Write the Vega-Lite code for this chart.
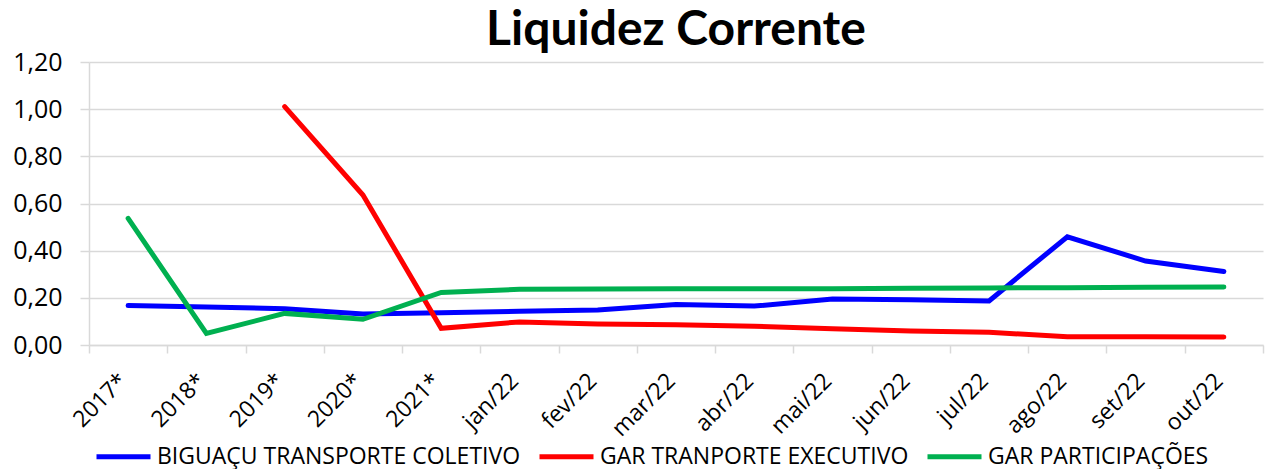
{
  "$schema": "https://vega.github.io/schema/vega-lite/v6.json",
  "autosize": "none",
  "width": 1174,
  "height": 283,
  "padding": {"left": 89, "top": 62, "right": 4, "bottom": 124},
  "background": "white",
  "title": {"text": "Liquidez Corrente", "font": "Lato", "fontSize": 48, "fontWeight": "bold", "color": "black", "anchor": "middle", "offset": -5},
  "config": {"view": {"stroke": null}, "font": "Open Sans"},
  "data": {"values": [
    {"p": "2017*", "s": "BIGUAÇU TRANSPORTE COLETIVO", "v": 0.167},
    {"p": "2018*", "s": "BIGUAÇU TRANSPORTE COLETIVO", "v": 0.161},
    {"p": "2019*", "s": "BIGUAÇU TRANSPORTE COLETIVO", "v": 0.154},
    {"p": "2020*", "s": "BIGUAÇU TRANSPORTE COLETIVO", "v": 0.131},
    {"p": "2021*", "s": "BIGUAÇU TRANSPORTE COLETIVO", "v": 0.137},
    {"p": "jan/22", "s": "BIGUAÇU TRANSPORTE COLETIVO", "v": 0.143},
    {"p": "fev/22", "s": "BIGUAÇU TRANSPORTE COLETIVO", "v": 0.148},
    {"p": "mar/22", "s": "BIGUAÇU TRANSPORTE COLETIVO", "v": 0.172},
    {"p": "abr/22", "s": "BIGUAÇU TRANSPORTE COLETIVO", "v": 0.165},
    {"p": "mai/22", "s": "BIGUAÇU TRANSPORTE COLETIVO", "v": 0.195},
    {"p": "jun/22", "s": "BIGUAÇU TRANSPORTE COLETIVO", "v": 0.192},
    {"p": "jul/22", "s": "BIGUAÇU TRANSPORTE COLETIVO", "v": 0.187},
    {"p": "ago/22", "s": "BIGUAÇU TRANSPORTE COLETIVO", "v": 0.459},
    {"p": "set/22", "s": "BIGUAÇU TRANSPORTE COLETIVO", "v": 0.356},
    {"p": "out/22", "s": "BIGUAÇU TRANSPORTE COLETIVO", "v": 0.312},
    {"p": "2019*", "s": "GAR TRANPORTE EXECUTIVO", "v": 1.011},
    {"p": "2020*", "s": "GAR TRANPORTE EXECUTIVO", "v": 0.636},
    {"p": "2021*", "s": "GAR TRANPORTE EXECUTIVO", "v": 0.071},
    {"p": "jan/22", "s": "GAR TRANPORTE EXECUTIVO", "v": 0.098},
    {"p": "fev/22", "s": "GAR TRANPORTE EXECUTIVO", "v": 0.089},
    {"p": "mar/22", "s": "GAR TRANPORTE EXECUTIVO", "v": 0.086},
    {"p": "abr/22", "s": "GAR TRANPORTE EXECUTIVO", "v": 0.080},
    {"p": "mai/22", "s": "GAR TRANPORTE EXECUTIVO", "v": 0.069},
    {"p": "jun/22", "s": "GAR TRANPORTE EXECUTIVO", "v": 0.059},
    {"p": "jul/22", "s": "GAR TRANPORTE EXECUTIVO", "v": 0.054},
    {"p": "ago/22", "s": "GAR TRANPORTE EXECUTIVO", "v": 0.035},
    {"p": "set/22", "s": "GAR TRANPORTE EXECUTIVO", "v": 0.035},
    {"p": "out/22", "s": "GAR TRANPORTE EXECUTIVO", "v": 0.034},
    {"p": "2017*", "s": "GAR PARTICIPAÇÕES", "v": 0.537},
    {"p": "2018*", "s": "GAR PARTICIPAÇÕES", "v": 0.049},
    {"p": "2019*", "s": "GAR PARTICIPAÇÕES", "v": 0.134},
    {"p": "2020*", "s": "GAR PARTICIPAÇÕES", "v": 0.109},
    {"p": "2021*", "s": "GAR PARTICIPAÇÕES", "v": 0.223},
    {"p": "jan/22", "s": "GAR PARTICIPAÇÕES", "v": 0.236},
    {"p": "fev/22", "s": "GAR PARTICIPAÇÕES", "v": 0.237},
    {"p": "mar/22", "s": "GAR PARTICIPAÇÕES", "v": 0.238},
    {"p": "abr/22", "s": "GAR PARTICIPAÇÕES", "v": 0.238},
    {"p": "mai/22", "s": "GAR PARTICIPAÇÕES", "v": 0.239},
    {"p": "jun/22", "s": "GAR PARTICIPAÇÕES", "v": 0.241},
    {"p": "jul/22", "s": "GAR PARTICIPAÇÕES", "v": 0.242},
    {"p": "ago/22", "s": "GAR PARTICIPAÇÕES", "v": 0.243},
    {"p": "set/22", "s": "GAR PARTICIPAÇÕES", "v": 0.245},
    {"p": "out/22", "s": "GAR PARTICIPAÇÕES", "v": 0.246}
  ]},
  "mark": {"type": "line", "strokeWidth": 5, "strokeCap": "round", "strokeJoin": "miter"},
  "encoding": {
    "x": {
      "field": "p", "type": "ordinal", "bandPosition": 0.5,
      "scale": {"type": "band", "paddingInner": 0, "paddingOuter": 0,
        "domain": ["2017*", "2018*", "2019*", "2020*", "2021*", "jan/22", "fev/22", "mar/22", "abr/22", "mai/22", "jun/22", "jul/22", "ago/22", "set/22", "out/22"]},
      "axis": {"title": null, "tickBand": "extent", "labelAngle": -45, "labelAlign": "right", "labelBaseline": "middle", "labelFontSize": 23, "labelColor": "black",
        "domainColor": "#d9d9d9", "domainWidth": 1.5, "tickColor": "#d9d9d9", "tickWidth": 1.5, "tickSize": 8, "labelPadding": 24, "labelOffset": -5, "grid": false}
    },
    "y": {
      "field": "v", "type": "quantitative",
      "scale": {"domain": [0, 1.2], "nice": false},
      "axis": {"title": null, "values": [0, 0.2, 0.4, 0.6, 0.8, 1.0, 1.2], "labelExpr": "replace(format(datum.value, '.2f'), '.', ',')",
        "labelFontSize": 25, "labelColor": "black", "grid": true, "gridColor": "#d9d9d9", "gridWidth": 1.5,
        "domainColor": "#d9d9d9", "domainWidth": 1.5, "tickColor": "#d9d9d9", "tickWidth": 1.5, "tickSize": 9, "labelPadding": 18}
    },
    "color": {
      "field": "s", "type": "nominal",
      "scale": {"domain": ["BIGUAÇU TRANSPORTE COLETIVO", "GAR TRANPORTE EXECUTIVO", "GAR PARTICIPAÇÕES"], "range": ["#0000ff", "#ff0000", "#00b050"]},
      "legend": {"title": null, "orient": "none", "legendX": 5, "legendY": 365, "direction": "horizontal",
        "symbolType": "stroke", "symbolSize": 2916, "symbolStrokeWidth": 5, "labelFontSize": 23, "labelColor": "black", "labelLimit": 0,
        "columnPadding": 8, "labelOffset": 4}
    }
  }
}
